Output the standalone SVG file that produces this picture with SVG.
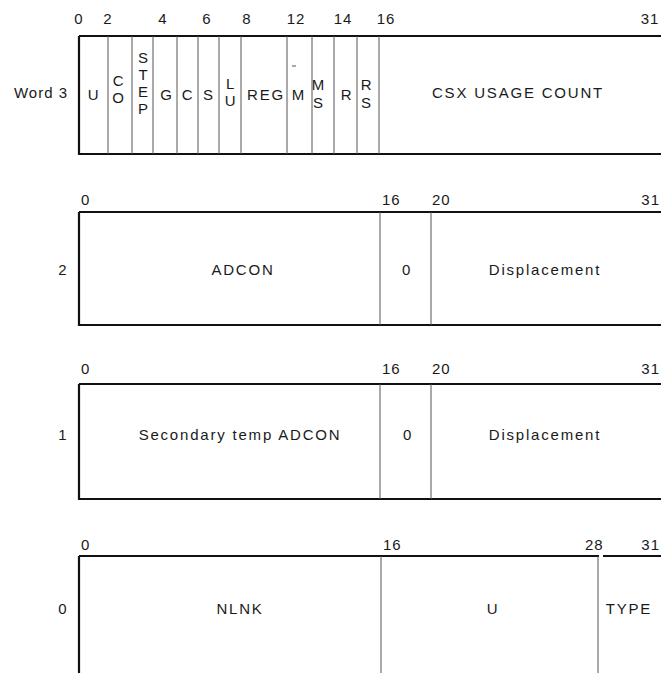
<svg xmlns="http://www.w3.org/2000/svg" width="661" height="673" viewBox="0 0 661 673">
<style>
.bg{fill:#fff}
.thick{stroke:#111;stroke-width:2.2;fill:none}
.thin{stroke:#555;stroke-width:1;fill:none}
text{font-family:"Liberation Sans",Arial,sans-serif;fill:#1a1a1a}
.f{font-size:15px;letter-spacing:1.8px}
.c{text-anchor:middle}
.e{text-anchor:end}
.n{font-size:15px;letter-spacing:1px}
</style>
<rect class="bg" width="661" height="673"/>

<g id="word3">
  <text class="n e" x="68" y="98">Word 3</text>
  <g class="n c">
    <text x="79" y="24">0</text><text x="108" y="24">2</text><text x="163" y="24">4</text>
    <text x="207" y="24">6</text><text x="247" y="24">8</text><text x="296" y="24">12</text>
    <text x="343" y="24">14</text><text x="386" y="24">16</text><text x="650" y="24">31</text>
  </g>
  <path class="thick" d="M79 36H661M79 36V154H661"/>
  <path class="thin" d="M108 36V154M132 36V154M153 36V154M177 36V154M198 36V154M219 36V154M241 36V154M287 36V154M312 36V154M334 36V154M357 36V154M379 36V154"/>
  <g class="f c">
    <text x="94" y="100">U</text>
    <text x="119" y="86">C</text><text x="119" y="103">O</text>
    <text x="144" y="63">S</text><text x="144" y="80">T</text><text x="144" y="97">E</text><text x="144" y="114">P</text>
    <text x="167" y="100">G</text>
    <text x="188" y="100">C</text>
    <text x="209" y="100">S</text>
    <text x="231" y="89">L</text><text x="231" y="106">U</text>
    <text x="266" y="100">REG</text>
    <text x="299" y="100">M</text>
    <text x="319" y="90">M</text><text x="319" y="108">S</text>
    <text x="347" y="100">R</text>
    <text x="367" y="90">R</text><text x="367" y="108">S</text>
    <text x="518" y="98">CSX USAGE COUNT</text>
  </g>
  <path class="thin" d="M292 66H296"/>
</g>

<g id="word2">
  <text class="n c" x="63" y="275">2</text>
  <g class="n">
    <text x="81" y="205">0</text><text x="382" y="205">16</text><text x="432" y="205">20</text>
    <text class="e" x="660" y="205">31</text>
  </g>
  <path class="thick" d="M79 212H661M79 212V325H661"/>
  <path class="thin" d="M380 212V325M431 212V325"/>
  <g class="f c">
    <text x="243" y="275">ADCON</text>
    <text x="407" y="275">0</text>
    <text x="545" y="275">Displacement</text>
  </g>
</g>

<g id="word1">
  <text class="n c" x="63" y="440">1</text>
  <g class="n">
    <text x="81" y="374">0</text><text x="382" y="374">16</text><text x="432" y="374">20</text>
    <text class="e" x="660" y="374">31</text>
  </g>
  <path class="thick" d="M79 384H661M79 384V499H661"/>
  <path class="thin" d="M380 384V499M431 384V499"/>
  <g class="f c">
    <text x="240" y="440">Secondary temp ADCON</text>
    <text x="408" y="440">0</text>
    <text x="545" y="440">Displacement</text>
  </g>
</g>

<g id="word0">
  <text class="n c" x="63" y="614">0</text>
  <g class="n">
    <text x="81" y="550">0</text><text x="383" y="550">16</text><text x="585" y="550">28</text>
    <text class="e" x="660" y="550">31</text>
  </g>
  <path class="thick" d="M79 556H599M603 556H661M79 556V673"/>
  <path class="thin" d="M381 556V673M598 556V673"/>
  <g class="f c">
    <text x="240" y="614">NLNK</text>
    <text x="493" y="614">U</text>
    <text x="629" y="614">TYPE</text>
  </g>
</g>

<g id="connectors"/>
</svg>
